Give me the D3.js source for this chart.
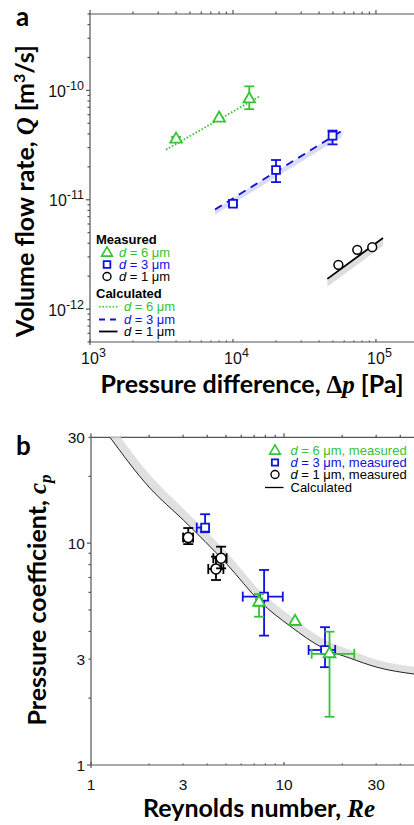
<!DOCTYPE html>
<html lang="en">
<head>
    <meta charset="UTF-8">
    <title>Flow rate and pressure coefficient</title>
    <style>
        body { margin: 0; background: #fff; }
        text { font-family: "Liberation Sans", Arial, sans-serif; }
    </style>
</head>
<body>
    <div class="container"></div>
    <script src="https://cdn.jsdelivr.net/npm/d3@7/dist/d3.min.js"></script>
    <script>
        // ---- panel a data: pressure difference [Pa] vs flow rate [m3/s]
        const pMeas6 = [4000, 8000, 13000]
        const qMeas6 = [3.57e-11, 5.57e-11, 8.33e-11]
        const qMeas6Lo = [3.45e-11, 5.57e-11, 6.74e-11]
        const qMeas6Hi = [3.75e-11, 5.57e-11, 1.09e-10]

        const pMeas3 = [10000, 20000, 49700]
        const qMeas3 = [9.2e-12, 1.87e-11, 3.86e-11]
        const qMeas3Lo = [8.9e-12, 1.45e-11, 3.21e-11]
        const qMeas3Hi = [9.8e-12, 2.31e-11, 4.29e-11]

        const pMeas1 = [54600, 74000, 94200]
        const qMeas1 = [2.54e-12, 3.48e-12, 3.68e-12]

        const pCalc6 = [3400, 15300]
        const qCalc6 = [2.87e-11, 8.8e-11]
        const pCalc3 = [7480, 57500]
        const qCalc3 = [8.13e-12, 4.26e-11]
        const qCalc3Band = [7.3e-12, 3.75e-11]
        const pCalc1 = [45700, 112000]
        const qCalc1 = [1.89e-12, 4.46e-12]
        const qCalc1Band = [1.6e-12, 3.8e-12]

        const xTicksA = [1e3, 1e4, 1e5]
        const yTicksA = [1e-12, 1e-11, 1e-10]

        // ---- panel b data: Reynolds number vs pressure coefficient
        const reMeas6 = [7.42, 11.4, 17.2]
        const reMeas6Lo = [7.15, 11.4, 13.9]
        const reMeas6Hi = [7.7, 11.4, 23.1]
        const cpMeas6 = [5.41, 4.43, 3.17]
        const cpMeas6Lo = [4.66, 4.43, 1.65]
        const cpMeas6Hi = [5.9, 4.43, 3.99]

        const reMeas3 = [3.9, 7.88, 16.3]
        const reMeas3Lo = [3.53, 6.11, 13.4]
        const reMeas3Hi = [3.9, 9.85, 18.4]
        const cpMeas3 = [11.75, 5.74, 3.30]
        const cpMeas3Lo = [11.2, 3.83, 2.76]
        const cpMeas3Hi = [13.5, 7.57, 4.18]

        const reMeas1 = [3.19, 4.44, 4.72]
        const reMeas1Lo = [3.0, 4.05, 4.3]
        const reMeas1Hi = [3.38, 4.85, 5.04]
        const cpMeas1 = [10.6, 7.65, 8.55]
        const cpMeas1Lo = [9.9, 6.82, 7.7]
        const cpMeas1Hi = [11.7, 8.69, 9.64]

        const reCalc = [1.254, 2.02, 3.01, 5.05, 7.51, 10.74, 15.98, 22.0, 30.2, 47.2]
        const cpCalc = [30, 17.7, 12.7, 8.05, 5.45, 4.23, 3.36, 3.03, 2.76, 2.57]
        const cpCalcBand = [35, 20.3, 14.3, 9.1, 6.1, 4.72, 3.7, 3.3, 2.98, 2.77]

        const xTicksB = [1, 3, 10, 30]
        const yTicksB = [1, 3, 10, 30]

        const green = "#33c433"
        const blue = "#1010e0"
        const axisColor = "#555"

        const svg = d3.select('.container').append("svg")
            .attr("width", 414)
            .attr("height", 825)

        const zip = (...cols) => cols[0].map((_, i) => cols.map(c => c[i]))

        // ================= panel a =================
        const xA = d3.scaleLog().domain([1e3, 2e5]).range([90, 419])
        const yA = d3.scaleLog().domain([5e-13, 5e-10]).range([342, 14])

        const chartA = svg.append("g").attr("class", "chart-a")

        function drawAxes(g, x, y, minorX, minorY) {
            const [x0, x1] = x.range()
            const [y0, y1] = y.range()
            const ax = g.append("g").attr("class", "axes")
                .attr("stroke", axisColor).attr("stroke-width", 1.2)
            ax.append("line").attr("x1", x0).attr("x2", x1).attr("y1", y0).attr("y2", y0)
            ax.append("line").attr("x1", x0).attr("x2", x1).attr("y1", y1).attr("y2", y1)
            ax.append("line").attr("x1", x0).attr("x2", x0).attr("y1", y0 + 3).attr("y2", y1)
            // minor + major ticks
            minorX.forEach(v => {
                const major = Math.abs(Math.log10(v) - Math.round(Math.log10(v))) < 1e-9
                const len = major ? 4 : 2.5
                ax.append("line").attr("x1", x(v)).attr("x2", x(v))
                    .attr("y1", y1).attr("y2", y1 - len)
                ax.append("line").attr("x1", x(v)).attr("x2", x(v))
                    .attr("y1", y0).attr("y2", y0 - len + 1)
            })
            minorY.forEach(v => {
                const major = Math.abs(Math.log10(v) - Math.round(Math.log10(v))) < 1e-9
                const len = major ? 4 : 2.5
                ax.append("line").attr("x1", x0).attr("x2", x0 - len)
                    .attr("y1", y(v)).attr("y2", y(v))
            })
        }

        drawAxes(chartA, xA, yA, xA.ticks(), yA.ticks())

        // tick labels, 10^n drawn as base + exponent texts
        const labA = chartA.append("g").attr("fill", "#111")
        xTicksA.forEach(v => {
            labA.append("text").attr("x", xA(v)).attr("y", 364)
                .attr("text-anchor", "middle").attr("font-size", 16).text("10")
            labA.append("text").attr("x", xA(v) + 9).attr("y", 357)
                .attr("font-size", 12.5).text(Math.round(Math.log10(v)))
        })
        yTicksA.forEach(v => {
            const ex = labA.append("text").attr("x", 84).attr("y", yA(v) - 0.5)
                .attr("text-anchor", "end").attr("font-size", 12.5)
                .text(Math.round(Math.log10(v)))
            const w = ex.node().getComputedTextLength()
            labA.append("text").attr("x", 84 - w).attr("y", yA(v) + 6.5)
                .attr("text-anchor", "end").attr("font-size", 16).text("10")
        })

        const lineA = d3.line().x(d => xA(d[0])).y(d => yA(d[1]))
        const bandA = d3.area().x(d => xA(d[0])).y0(d => yA(d[1])).y1(d => yA(d[2]))

        chartA.append("path").datum(zip(pCalc3, qCalc3, qCalc3Band))
            .attr("d", bandA).attr("fill", "#dcdcf6")
        chartA.append("path").datum(zip(pCalc1, qCalc1, qCalc1Band))
            .attr("d", bandA).attr("fill", "#dedede")

        chartA.append("path").datum(zip(pCalc6, qCalc6)).attr("d", lineA)
            .attr("fill", "none").attr("stroke", green).attr("stroke-width", 1.8)
            .attr("stroke-dasharray", "1.6,1.8")
        chartA.append("path").datum(zip(pCalc3, qCalc3)).attr("d", lineA)
            .attr("fill", "none").attr("stroke", blue).attr("stroke-width", 1.8)
            .attr("stroke-dasharray", "8,6")
        chartA.append("path").datum(zip(pCalc1, qCalc1)).attr("d", lineA)
            .attr("fill", "none").attr("stroke", "#000").attr("stroke-width", 1.8)

        const tri = d3.symbol().type(d3.symbolTriangle)
        const sq = d3.symbol().type(d3.symbolSquare)

        function errY(g, x, y, xv, lo, hi, color, cap) {
            g.append("line").attr("x1", x(xv)).attr("x2", x(xv))
                .attr("y1", y(lo)).attr("y2", y(hi))
                .attr("stroke", color).attr("stroke-width", 1.8)
            ;[lo, hi].forEach(v => g.append("line")
                .attr("x1", x(xv) - cap).attr("x2", x(xv) + cap)
                .attr("y1", y(v)).attr("y2", y(v))
                .attr("stroke", color).attr("stroke-width", 1.8))
        }
        function errX(g, x, y, yv, lo, hi, color, cap) {
            g.append("line").attr("x1", x(lo)).attr("x2", x(hi))
                .attr("y1", y(yv)).attr("y2", y(yv))
                .attr("stroke", color).attr("stroke-width", 1.8)
            ;[lo, hi].forEach(v => g.append("line")
                .attr("x1", x(v)).attr("x2", x(v))
                .attr("y1", y(yv) - cap).attr("y2", y(yv) + cap)
                .attr("stroke", color).attr("stroke-width", 1.8))
        }

        const ptsA = chartA.append("g").attr("class", "points")
        zip(pMeas6, qMeas6, qMeas6Lo, qMeas6Hi).forEach(d => {
            if (d[2] !== d[3]) errY(ptsA, xA, yA, d[0], d[2], d[3], green, 5)
            ptsA.append("path").attr("d", tri.size(58)())
                .attr("transform", `translate(${xA(d[0])},${yA(d[1])})`)
                .attr("fill", "#fff").attr("stroke", green).attr("stroke-width", 1.8)
        })
        zip(pMeas3, qMeas3, qMeas3Lo, qMeas3Hi).forEach(d => {
            errY(ptsA, xA, yA, d[0], d[2], d[3], blue, 5)
            ptsA.append("path").attr("d", sq.size(62)())
                .attr("transform", `translate(${xA(d[0])},${yA(d[1])})`)
                .attr("fill", "#fff").attr("stroke", blue).attr("stroke-width", 1.8)
        })
        zip(pMeas1, qMeas1).forEach(d => {
            ptsA.append("circle").attr("cx", xA(d[0])).attr("cy", yA(d[1])).attr("r", 4.4)
                .attr("fill", "#fff").attr("stroke", "#000").attr("stroke-width", 1.5)
        })

        // legend label "d = n μm": italic d and the rest as two texts
        function dLabel(g, x, y, color, rest) {
            const d = g.append("text").attr("x", x).attr("y", y).attr("fill", color)
                .attr("font-style", "italic").text("d")
            const w = d.node().getComputedTextLength()
            g.append("text").attr("x", x + w + 3.5).attr("y", y).attr("fill", color).text(rest)
        }

        // legend a
        const legA = chartA.append("g").style("font-size", "13px")
        legA.append("text").attr("x", 96).attr("y", 243.5).attr("font-weight", "bold").text("Measured")
        legA.append("text").attr("x", 96).attr("y", 298).attr("font-weight", "bold").text("Calculated")
        const legItemsA = [
            { c: green, label: "6", y: 252.5, mark: "tri", ls: "1.6,1.8", ly: 306.7 },
            { c: blue, label: "3", y: 264.5, mark: "sq", ls: "6,5", ly: 319.5 },
            { c: "#000", label: "1", y: 276.5, mark: "circ", ls: null, ly: 331.5 }
        ]
        legItemsA.forEach(it => {
            if (it.mark === "tri") legA.append("path").attr("d", tri.size(50)())
                .attr("transform", `translate(107,${it.y + 0.5})`)
                .attr("fill", "#fff").attr("stroke", it.c).attr("stroke-width", 1.6)
            if (it.mark === "sq") legA.append("path").attr("d", sq.size(45)())
                .attr("transform", `translate(107,${it.y})`)
                .attr("fill", "#fff").attr("stroke", it.c).attr("stroke-width", 1.8)
            if (it.mark === "circ") legA.append("circle").attr("cx", 107).attr("cy", it.y).attr("r", 4)
                .attr("fill", "#fff").attr("stroke", it.c).attr("stroke-width", 1.4)
            dLabel(legA, 119, it.y + 4.5, it.c, `= ${it.label} μm`)

            legA.append("line").attr("x1", 99).attr("x2", 117.5).attr("y1", it.ly).attr("y2", it.ly)
                .attr("stroke", it.c).attr("stroke-width", it.ls === "1.6,1.8" ? 1.5 : 1.8)
                .attr("stroke-dasharray", it.ls)
            dLabel(legA, 124, it.ly + 4.5, it.c, `= ${it.label} μm`)
        })

        // titles a
        const titleFont = "Lato, 'Open Sans', sans-serif"
        const mathFont = "'Liberation Serif', 'DejaVu Serif', serif"

        const yTitleA = chartA.append("text")
            .attr("transform", "translate(34,191) rotate(-90)")
            .attr("text-anchor", "middle").attr("font-weight", "bold")
            .style("font-size", "25px").style("font-family", titleFont)
        yTitleA.append("tspan").text("Volume flow rate, ")
        yTitleA.append("tspan").style("font-family", mathFont).attr("font-style", "italic").text("Q")
        yTitleA.append("tspan").text(" [m")
        yTitleA.append("tspan").style("font-size", "16px").attr("dy", -9).text("3")
        yTitleA.append("tspan").attr("dy", 9).text("/s]")

        const xTitleA = chartA.append("text").attr("x", 252).attr("y", 393)
            .attr("text-anchor", "middle").attr("font-weight", "bold")
            .style("font-size", "25px").style("font-family", titleFont)
        xTitleA.append("tspan").text("Pressure difference, ")
        xTitleA.append("tspan").style("font-family", mathFont).text("Δ")
        xTitleA.append("tspan").style("font-family", mathFont).attr("font-style", "italic").text("p")
        xTitleA.append("tspan").text(" [Pa]")

        chartA.append("text").attr("x", 16).attr("y", 26).attr("font-weight", "bold")
            .style("font-size", "26px").style("font-family", titleFont).text("a")

        // ================= panel b =================
        const xB = d3.scaleLog().domain([1, 50]).range([91, 419])
        const yB = d3.scaleLog().domain([1, 30]).range([765, 437.3])

        const chartB = svg.append("g").attr("class", "chart-b")
        drawAxes(chartB, xB, yB, xB.ticks(), yB.ticks().filter(v => v <= 30))

        const xLabB = chartB.append("g").style("font-size", "15.5px").attr("fill", "#111")
        xTicksB.forEach(v => xLabB.append("text").attr("x", xB(v)).attr("y", 790)
            .attr("text-anchor", "middle").text(v))
        const yLabB = chartB.append("g").style("font-size", "15.5px").attr("fill", "#111")
        yTicksB.forEach(v => yLabB.append("text").attr("x", 85).attr("y", yB(v) + 5.5)
            .attr("text-anchor", "end").text(v))

        svg.append("clipPath").attr("id", "clipB").append("rect")
            .attr("x", 91).attr("y", 437.3).attr("width", 330).attr("height", 330)

        const calc = zip(reCalc, cpCalc, cpCalcBand)
        chartB.append("path").datum(calc)
            .attr("clip-path", "url(#clipB)")
            .attr("d", d3.area().curve(d3.curveMonotoneX)
                .x(d => xB(d[0])).y0(d => yB(d[1])).y1(d => yB(d[2])))
            .attr("fill", "#e0e0e0")
        chartB.append("path").datum(calc)
            .attr("clip-path", "url(#clipB)")
            .attr("d", d3.line().curve(d3.curveMonotoneX).x(d => xB(d[0])).y(d => yB(d[1])))
            .attr("fill", "none").attr("stroke", "#222").attr("stroke-width", 1)

        const ptsB = chartB.append("g").attr("class", "points")
        function seriesB(re, reLo, reHi, cp, cpLo, cpHi, color, mark) {
            zip(re, reLo, reHi, cp, cpLo, cpHi).forEach(d => {
                if (d[4] !== d[5]) errY(ptsB, xB, yB, d[0], d[4], d[5], color, 5)
                if (d[1] !== d[2]) errX(ptsB, xB, yB, d[3], d[1], d[2], color, 5)
                const tx = `translate(${xB(d[0])},${yB(d[3])})`
                if (mark === "tri") ptsB.append("path").attr("d", tri.size(60)()).attr("transform", tx)
                    .attr("fill", "#fff").attr("stroke", color).attr("stroke-width", 1.8)
                if (mark === "sq") ptsB.append("path").attr("d", sq.size(62)()).attr("transform", tx)
                    .attr("fill", "#fff").attr("stroke", color).attr("stroke-width", 1.8)
                if (mark === "circ") ptsB.append("circle").attr("r", 5).attr("transform", tx)
                    .attr("fill", "#fff").attr("stroke", color).attr("stroke-width", 1.6)
            })
        }
        seriesB(reMeas1, reMeas1Lo, reMeas1Hi, cpMeas1, cpMeas1Lo, cpMeas1Hi, "#000", "circ")
        seriesB(reMeas3, reMeas3Lo, reMeas3Hi, cpMeas3, cpMeas3Lo, cpMeas3Hi, blue, "sq")
        seriesB(reMeas6, reMeas6Lo, reMeas6Hi, cpMeas6, cpMeas6Lo, cpMeas6Hi, green, "tri")

        // legend b
        const legB = chartB.append("g").style("font-size", "13px")
        const legItemsB = [
            { c: green, label: "6", y: 450.5, mark: "tri" },
            { c: blue, label: "3", y: 462.5, mark: "sq" },
            { c: "#000", label: "1", y: 474.5, mark: "circ" }
        ]
        legItemsB.forEach(it => {
            if (it.mark === "tri") legB.append("path").attr("d", tri.size(50)())
                .attr("transform", `translate(275,${it.y + 0.5})`)
                .attr("fill", "#fff").attr("stroke", it.c).attr("stroke-width", 1.6)
            if (it.mark === "sq") legB.append("path").attr("d", sq.size(40)())
                .attr("transform", `translate(275,${it.y})`)
                .attr("fill", "#fff").attr("stroke", it.c).attr("stroke-width", 1.8)
            if (it.mark === "circ") legB.append("circle").attr("cx", 275).attr("cy", it.y).attr("r", 4)
                .attr("fill", "#fff").attr("stroke", it.c).attr("stroke-width", 1.4)
            dLabel(legB, 290.5, it.y + 4.5, it.c, `= ${it.label} μm, measured`)
        })
        legB.append("line").attr("x1", 265).attr("x2", 283.5).attr("y1", 487.5).attr("y2", 487.5)
            .attr("stroke", "#000").attr("stroke-width", 1.3)
        legB.append("text").attr("x", 290.5).attr("y", 492).text("Calculated")

        // titles b
        const yTitleB = chartB.append("text")
            .attr("transform", "translate(46,600) rotate(-90)")
            .attr("text-anchor", "middle").attr("font-weight", "bold")
            .style("font-size", "25px").style("font-family", titleFont)
        yTitleB.append("tspan").text("Pressure coefficient, ")
        yTitleB.append("tspan").style("font-family", mathFont).attr("font-style", "italic").text("c")
        yTitleB.append("tspan").style("font-family", mathFont).attr("font-style", "italic")
            .style("font-size", "17px").attr("dy", 5).text("p")

        const xTitleB = chartB.append("text").attr("x", 259).attr("y", 817)
            .attr("text-anchor", "middle").attr("font-weight", "bold")
            .style("font-size", "25px").style("font-family", titleFont)
        xTitleB.append("tspan").text("Reynolds number, ")
        xTitleB.append("tspan").style("font-family", mathFont).attr("font-style", "italic").text("Re")

        chartB.append("text").attr("x", 16).attr("y", 455).attr("font-weight", "bold")
            .style("font-size", "26px").style("font-family", titleFont).text("b")
    </script>
</body>
</html>
